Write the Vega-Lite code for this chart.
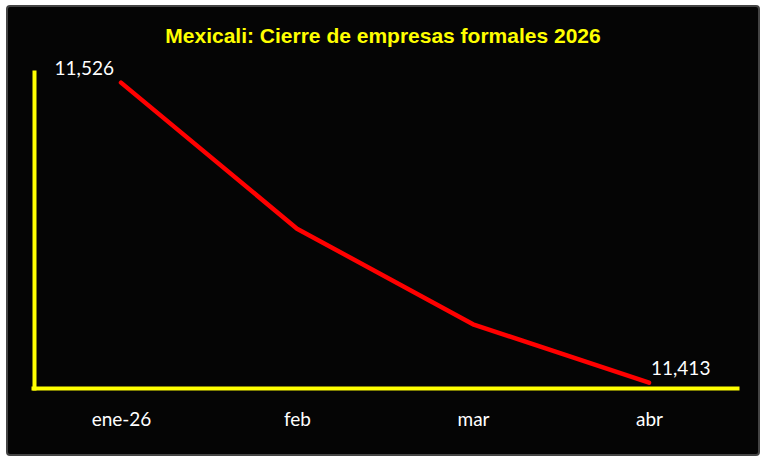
{
  "$schema": "https://vega.github.io/schema/vega-lite/v6.json",
  "width": 752,
  "height": 449,
  "autosize": {"type": "none"},
  "padding": {"left": 7, "top": 6, "right": 11, "bottom": 15},
  "background": "white",
  "config": {
    "view": {"fill": "#050505", "stroke": "#444444", "strokeWidth": 2, "cornerRadius": 3}
  },
  "title": {
    "text": "Mexicali: Cierre de empresas formales 2026",
    "color": "#FFFF00",
    "font": "Liberation Sans",
    "fontSize": 21,
    "fontWeight": "bold",
    "anchor": "middle",
    "baseline": "alphabetic",
    "offset": -58
  },
  "data": {
    "values": [
      {"mes": "ene-26", "empresas": 11526},
      {"mes": "feb", "empresas": 11471},
      {"mes": "mar", "empresas": 11435},
      {"mes": "abr", "empresas": 11413}
    ]
  },
  "encoding": {
    "x": {
      "field": "mes",
      "type": "nominal",
      "sort": null,
      "scale": {"type": "point", "range": [26, 730], "padding": 0.5},
      "axis": {
        "title": null,
        "offset": -67,
        "domainColor": "#FFFF00",
        "domainWidth": 4,
        "domainCap": "square",
        "ticks": false,
        "tickSize": 0,
        "grid": false,
        "labelAngle": 0,
        "labelColor": "white",
        "labelFont": "Lato",
        "labelFontSize": 19,
        "labelPadding": 22
      }
    },
    "y": {
      "field": "empresas",
      "type": "quantitative",
      "scale": {"domain": [11411, 11530], "range": [382, 66], "zero": false, "nice": false},
      "axis": {
        "title": null,
        "offset": -27,
        "domainColor": "#FFFF00",
        "domainWidth": 4,
        "domainCap": "square",
        "ticks": false,
        "labels": false,
        "grid": false
      }
    }
  },
  "layer": [
    {
      "mark": {"type": "line", "color": "#FF0000", "strokeWidth": 4.5, "strokeCap": "round", "strokeJoin": "round"}
    },
    {
      "transform": [{"filter": "datum.mes == 'ene-26'"}],
      "mark": {"type": "text", "align": "right", "baseline": "alphabetic", "dx": -7, "dy": -8, "color": "white", "font": "Lato", "fontSize": 19},
      "encoding": {"text": {"field": "empresas", "type": "quantitative", "format": ","}}
    },
    {
      "transform": [{"filter": "datum.mes == 'abr'"}],
      "mark": {"type": "text", "align": "left", "baseline": "alphabetic", "dx": 2, "dy": -8, "color": "white", "font": "Lato", "fontSize": 19},
      "encoding": {"text": {"field": "empresas", "type": "quantitative", "format": ","}}
    }
  ]
}
